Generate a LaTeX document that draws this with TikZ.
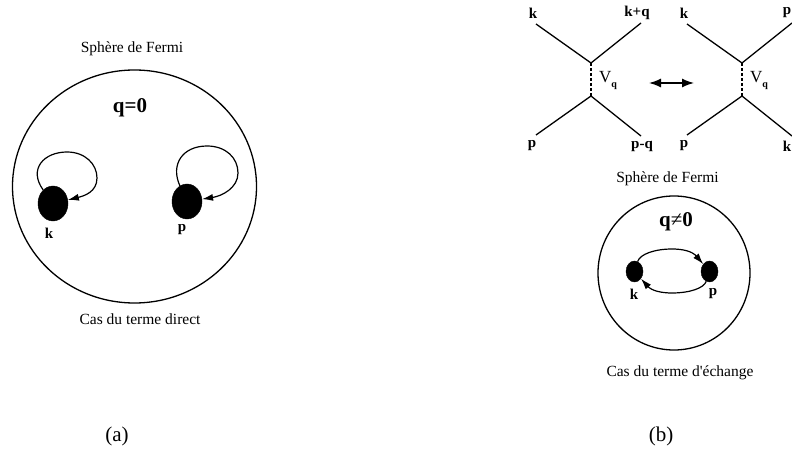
\documentclass[tikz,border=0pt]{standalone}
\usepackage{fontspec}
\setmainfont{Liberation Serif}
\newfontfamily\plainrm{Liberation Serif}
\usetikzlibrary{shapes.geometric,arrows.meta}
\tikzset{
  sphere/.style={draw,ellipse,line width=1.3bp,inner sep=0pt},
  particle/.style={draw,ellipse,fill=black,inner sep=0pt},
  mom/.style={font=\fontsize{15bp}{16bp}\selectfont\bfseries,inner sep=0pt},
  caption/.style={font=\fontsize{15.5bp}{17bp}\selectfont,inner sep=0pt},
  charge/.style={font=\fontsize{21bp}{23bp}\selectfont,inner sep=0pt},
  tag/.style={font=\fontsize{21bp}{23bp}\selectfont,inner sep=0pt},
  leg/.style={line width=1.3bp},
  orbit/.style={-{Latex[length=11bp,width=7bp]},line width=1.2bp},
}
\newcommand{\Vq}{\fontsize{17bp}{18bp}\selectfont V\raisebox{-5bp}{\fontsize{10bp}{11bp}\selectfont\bfseries q}}
\begin{document}
\begin{tikzpicture}
  \useasboundingbox (0bp,0bp) rectangle (792bp,454bp);
  %% direct term
  \node (SphereA) at (134.5bp,267.5bp) [sphere,minimum width=244bp,minimum height=233bp] {};
  \node (DotK) at (53bp,250.5bp) [particle,minimum width=30bp,minimum height=35bp] {};
  \node (DotP) at (187bp,252.5bp) [particle,minimum width=30bp,minimum height=35bp] {};
  \node (LabelK) at (49bp,221bp) [mom] {k};
  \node (LabelP) at (182bp,224bp) [mom] {p};
  \node (FermiA) at (132bp,405bp) [caption] {Sphère de Fermi};
  \node (ChargeA) at (130bp,346bp) [charge] {\textbf{q=0}};
  \node (DirectA) at (140bp,135bp) [caption] {Cas du terme direct};
  \node (TagA) at (117bp,18bp) [tag] {(a)};
  \draw [orbit] (DotK) ..controls (28bp,285bp) and (44bp,302bp) .. (67bp,302bp) .. controls (85bp,302bp) and (97bp,290bp) .. (97bp,276bp) .. controls (97bp,262bp) and (84bp,258bp) .. (DotK);
  \draw [orbit] (DotP) ..controls (170bp,290bp) and (183bp,308bp) .. (207bp,308bp) .. controls (226bp,308bp) and (238bp,296bp) .. (238bp,281bp) .. controls (238bp,266bp) and (222bp,258bp) .. (DotP);
  %% scattering diagrams
  \coordinate (TopA) at (591bp,391bp);
  \coordinate (BotA) at (591bp,358bp);
  \coordinate (TopB) at (742bp,391bp);
  \coordinate (BotB) at (742bp,358bp);
  \node (InK) at (533bp,441bp) [mom] {k};
  \node (OutKQ) at (637bp,441bp) [mom] {k+q};
  \node (InP) at (532bp,308bp) [mom] {p};
  \node (OutPQ) at (642bp,308bp) [mom] {p-q};
  \node (InK2) at (684bp,441bp) [mom] {k};
  \node (OutP2) at (787bp,441bp) [mom] {p};
  \node (InP2) at (684bp,308bp) [mom] {p};
  \node (OutK2) at (787bp,308bp) [mom] {k};
  \node (VqA) at (608bp,373bp) {\Vq};
  \node (VqB) at (759bp,373bp) {\Vq};
  \coordinate (SwapL) at (649bp,371bp);
  \coordinate (SwapR) at (694bp,371bp);
  \draw [leg] (536bp,430bp) -- (TopA) -- (641bp,431bp);
  \draw [leg] (536bp,319bp) -- (BotA) -- (641bp,318bp);
  \draw [leg] (687bp,430bp) -- (TopB) -- (792bp,431bp);
  \draw [leg] (687bp,319bp) -- (BotB) -- (792bp,318bp);
  \draw [leg,dash pattern=on 3bp off 2bp] (TopA) -- (BotA);
  \draw [leg,dash pattern=on 3bp off 2bp] (TopB) -- (BotB);
  \draw [{Latex[length=12bp,width=9bp]}-{Latex[length=12bp,width=9bp]},line width=1.4bp] (SwapL) -- (SwapR);
  %% exchange term
  \node (SphereB) at (674bp,181bp) [sphere,minimum width=152bp,minimum height=154bp] {};
  \node (DotK2) at (634.5bp,182.5bp) [particle,minimum width=17bp,minimum height=21bp] {};
  \node (DotP2) at (709.5bp,182.5bp) [particle,minimum width=17bp,minimum height=21bp] {};
  \node (LabelK2) at (634bp,160bp) [mom] {k};
  \node (LabelP2) at (713bp,160bp) [mom] {p};
  \node (FermiB) at (667.5bp,275bp) [caption] {Sphère de Fermi};
  \node (ChargeB) at (676bp,232bp) [charge] {\textbf{q}≠\textbf{0}};
  \node (ExchangeB) at (680bp,81bp) [caption] {Cas du terme d{\plainrm '}échange};
  \node (TagB) at (661bp,18bp) [tag] {(b)};
  \draw [orbit] (DotK2) ..controls (640bp,200bp) and (655bp,205bp) .. (672bp,205bp) .. controls (682bp,205bp) and (692bp,203bp) .. (DotP2);
  \draw [orbit] (DotP2) ..controls (704bp,166bp) and (690bp,161bp) .. (672bp,161bp) .. controls (662bp,161bp) and (652bp,163bp) .. (DotK2);
\end{tikzpicture}
\end{document}
